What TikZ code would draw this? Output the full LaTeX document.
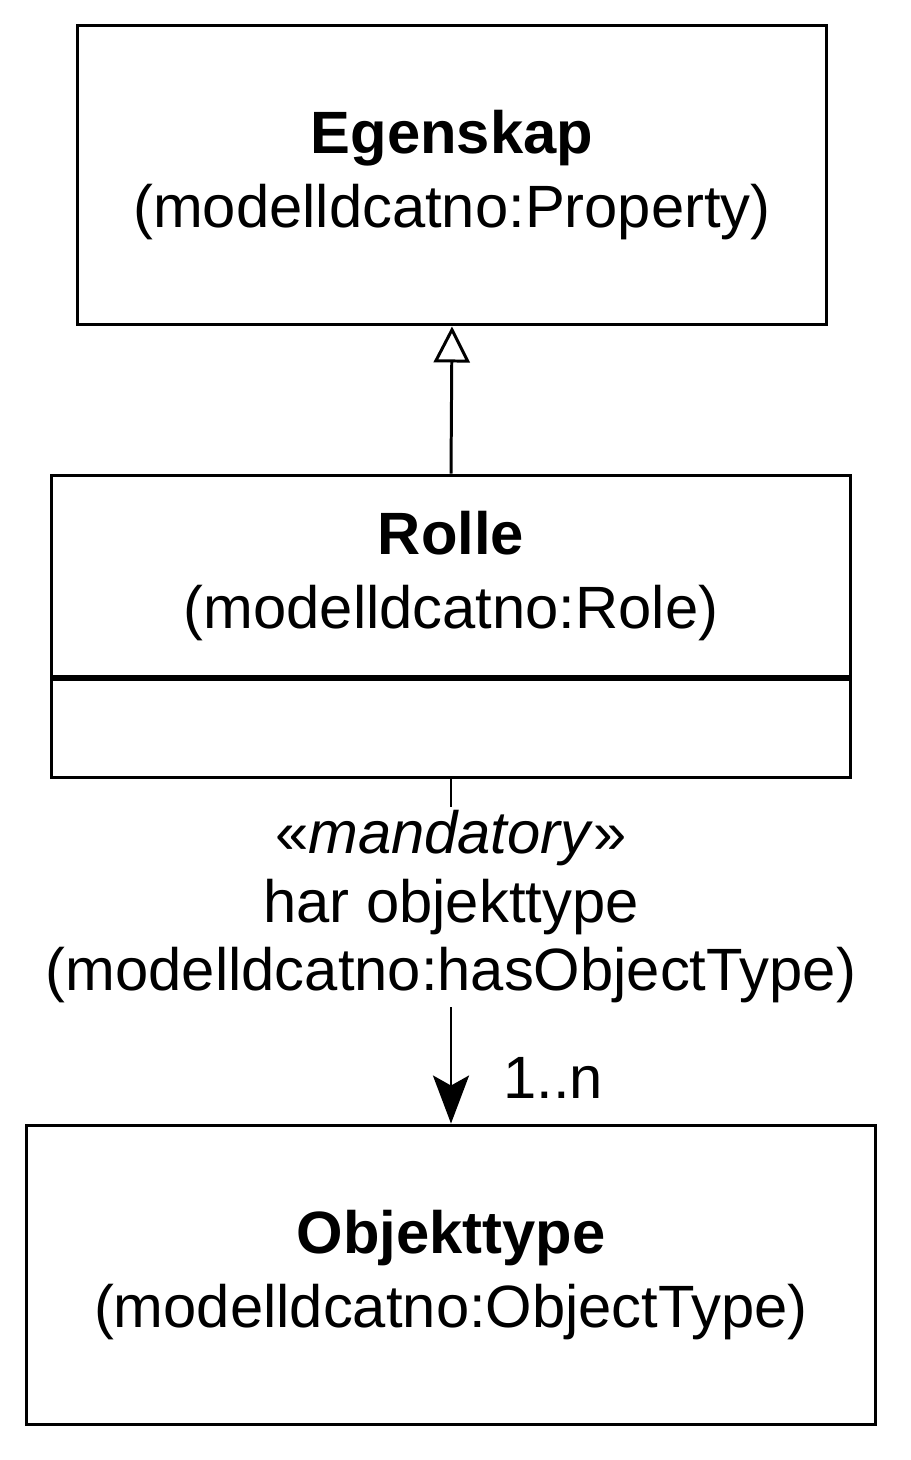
\documentclass[tikz,border=0pt]{standalone}
\usepackage{fontspec}
\setmainfont{Liberation Sans}
\usetikzlibrary{arrows.meta}

\tikzset{
    umlbox/.style={draw, line width=1.7pt, align=center, inner sep=0pt,
        font=\fontsize{34}{42.5}\selectfont},
    umltext/.style={align=center, inner sep=2pt, fill=white,
        font=\fontsize{34}{39}\selectfont}
}

\begin{document}
\begin{tikzpicture}[x=0.02cm, y=-0.02cm]
        \useasboundingbox (0,0) rectangle (910,1460);

        \node[umlbox, minimum width=15cm, minimum height=6cm] (egenskap) at (452,175)
            {\textbf{Egenskap}\\(modelldcatno:Property)};
        \node[umlbox, minimum width=16cm, minimum height=4.04cm] (rolle) at (451,576)
            {\textbf{Rolle}\\(modelldcatno:Role)};
        \node[umlbox, minimum width=16cm, minimum height=1.96cm, anchor=north] (rolleattr) at (rolle.south) {};
        \node[umlbox, minimum width=17cm, minimum height=6cm] (objekttype) at (451,1275)
            {\textbf{Objekttype}\\(modelldcatno:ObjectType)};

        \draw[line width=1.7pt, -{Triangle[open, length=36*0.02cm, width=36*0.02cm]}] (rolle.north) -- (egenskap.south);
        \draw[line width=1.7pt, -{Stealth[length=48*0.02cm, width=36*0.02cm, inset=10*0.02cm]}] (rolleattr.south) -- (objekttype.north)
            node[umltext, pos=0.37] (assoc) {«\textit{mandatory}»\\har objekttype\\(modelldcatno:hasObjectType)};
        \node[font=\fontsize{34}{39}\selectfont, anchor=west] (mult) at (497,1078) {1..n};
    \end{tikzpicture}
\end{document}
